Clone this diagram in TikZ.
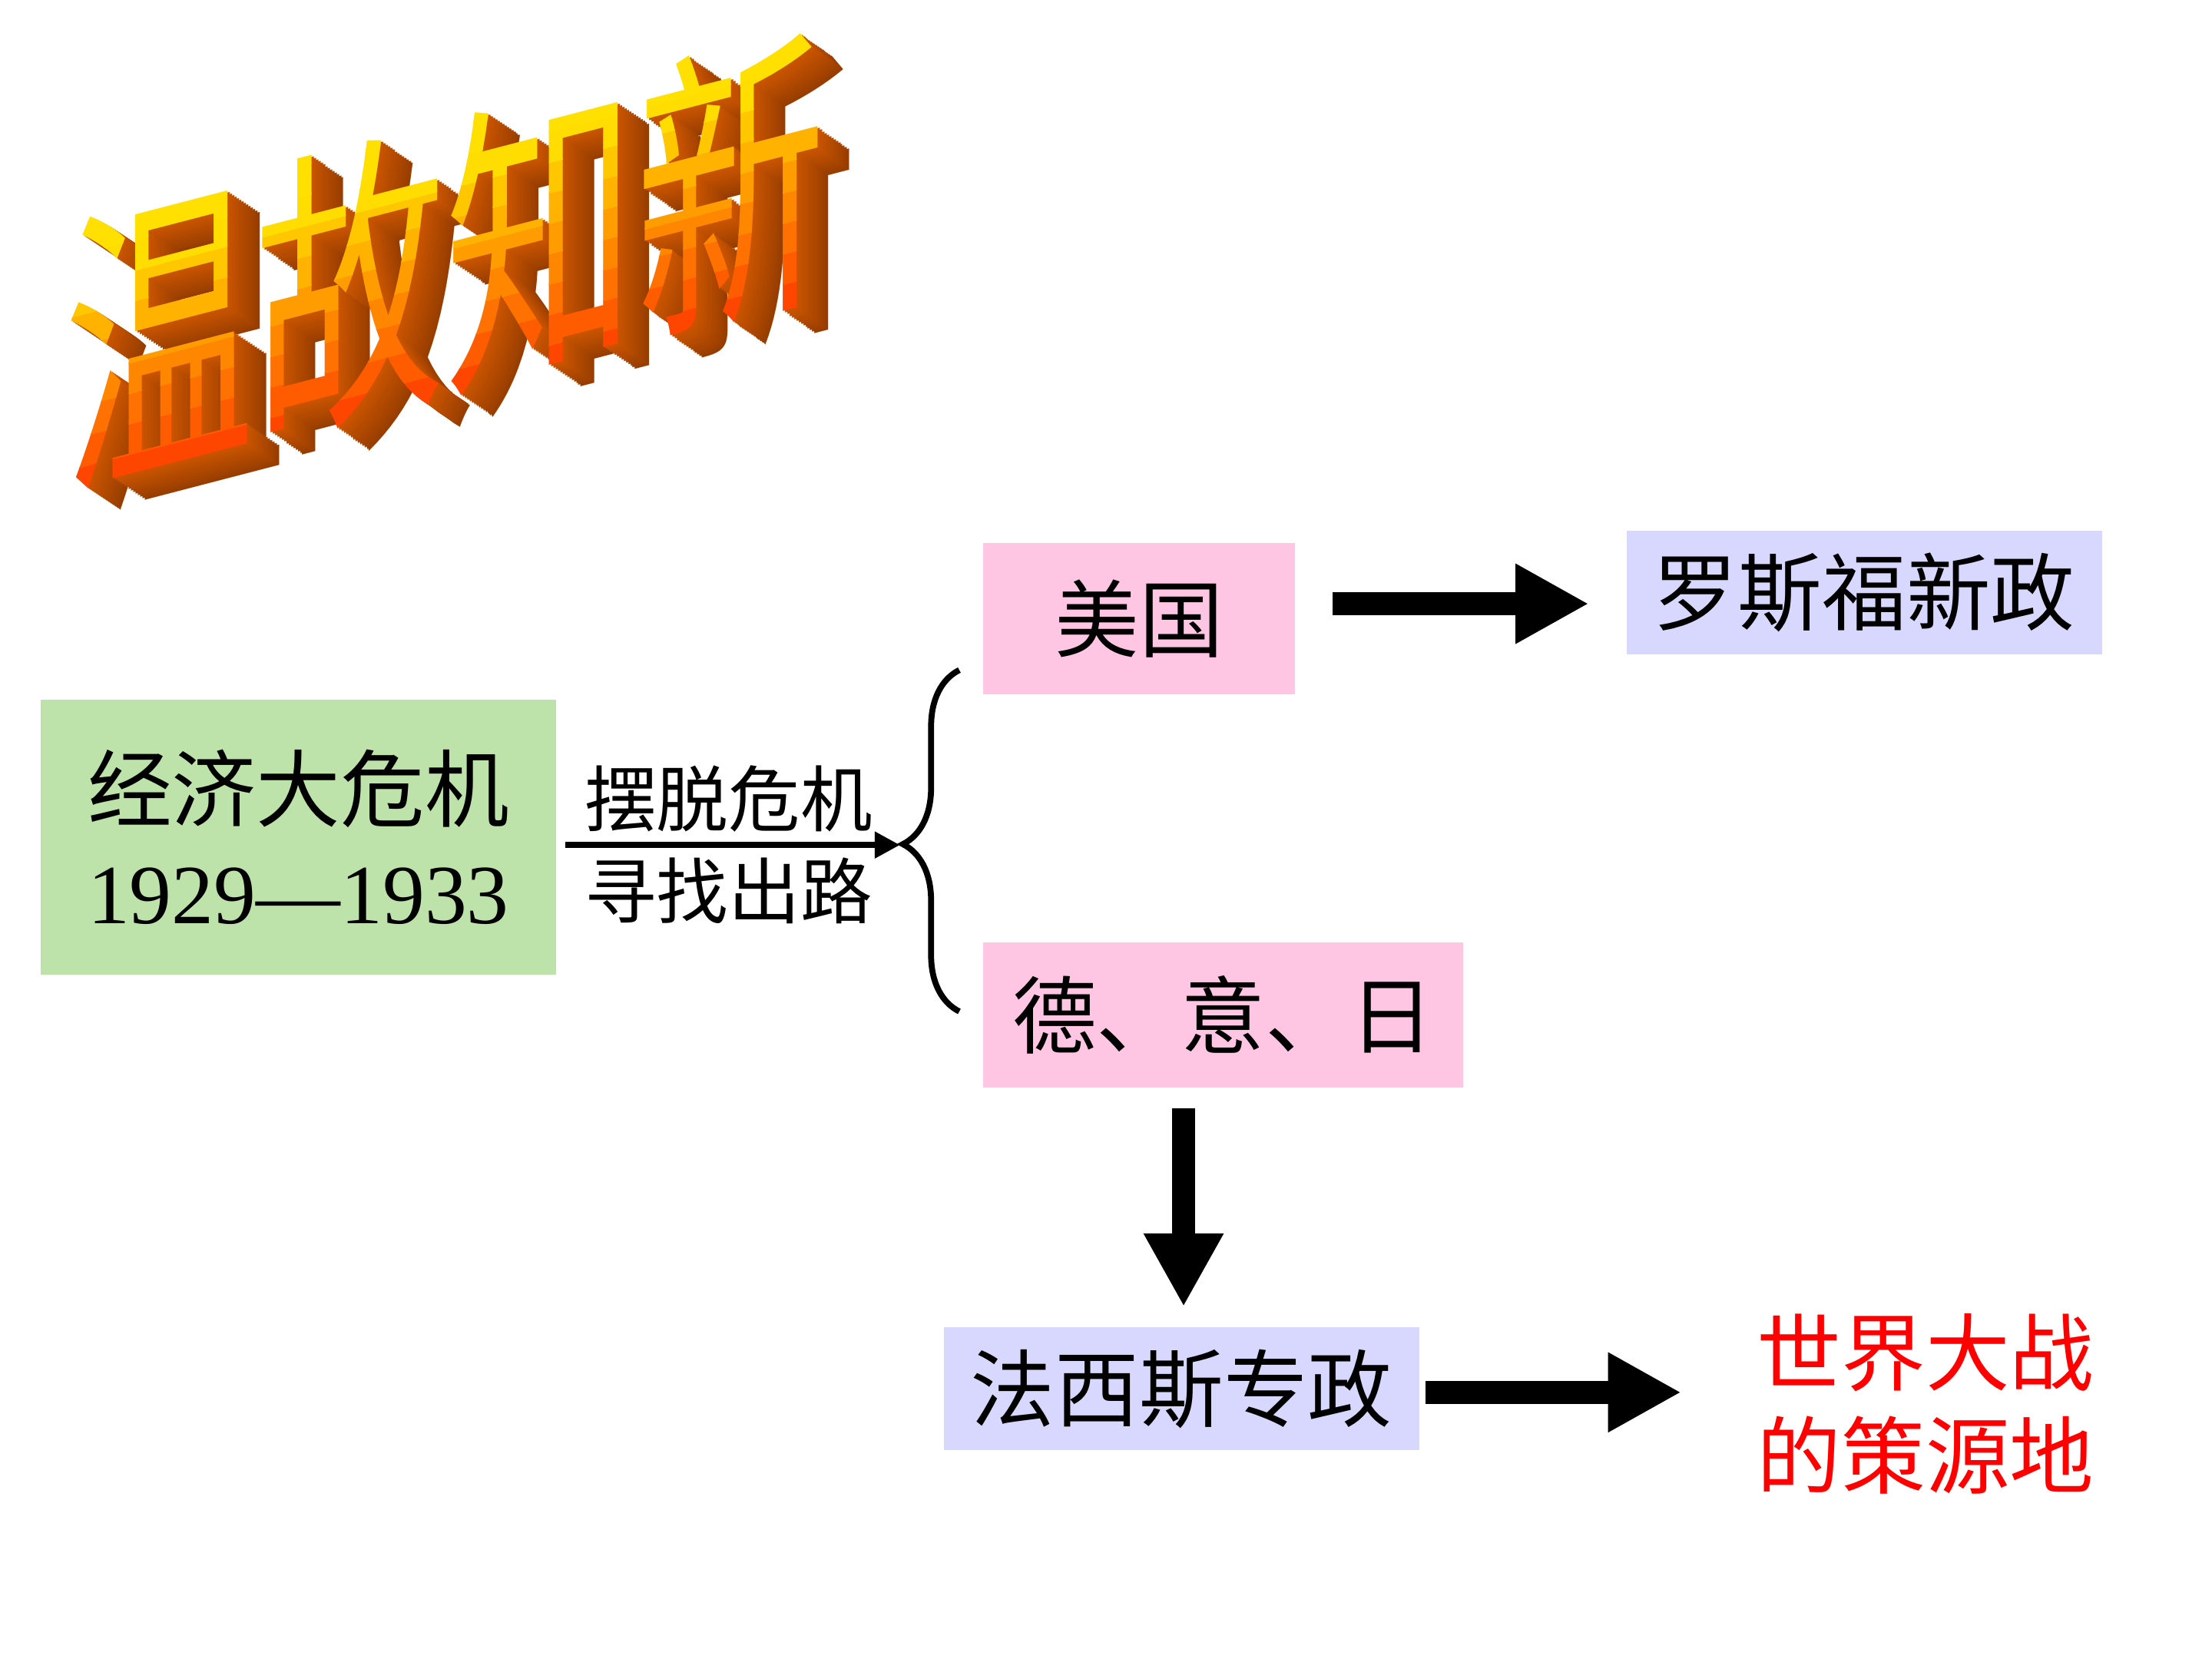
\documentclass[tikz,border=0pt]{standalone}
\usepackage{fontspec}
\setmainfont{Liberation Serif}
\newfontfamily\cjk{Noto Sans CJK SC}
\usepackage{xcolor}
\definecolor{crisisGreen}{HTML}{BDE3AA}
\definecolor{boxPink}{HTML}{FFC6E4}
\definecolor{boxLilac}{HTML}{D8D8FF}
\definecolor{titleTop}{HTML}{FFE000}
\definecolor{titleBot}{HTML}{FF4600}
\definecolor{titleSide}{HTML}{CC5600}
\definecolor{titleDeep}{HTML}{6E2A00}
\usepackage{tikz}
\usetikzlibrary{calc,arrows.meta,decorations.pathreplacing}

\begin{document}
\begin{tikzpicture}[>=stealth,
  box/.style={inner sep=0pt, font=\cjk\fontsize{17}{20.8}\selectfont},
  ttl/.style={anchor=south west, inner sep=0pt, transform shape,
    font=\cjk\fontsize{38.4}{40}\selectfont},
  bigarrow/.style={line width=0.16cm, -{Triangle[length=0.52cm, width=0.53cm]}},
  thinarrow/.style={line width=1.3pt, -{Triangle[length=0.18cm, width=0.18cm]}}]
  \fill[white] (0,0) rectangle (15.68,11.76);
  \useasboundingbox (0,0) rectangle (15.68,11.76);
  % ---- title: extruded layers, then the front face in bands ----
  \foreach \i in {14,13,...,1} {
    \pgfmathsetmacro{\dk}{\i*4}
    \begin{scope}[shift={(0.45+\i*0.016,8.2-\i*0.011)}, yslant=0.26, yscale=1.6]
      \node[ttl, text=titleDeep!\dk!titleSide] (side-\i) at (0,0) {温故知新};
    \end{scope}
  }
  \foreach \k in {0,...,9} {
    \pgfmathsetmacro{\mix}{min(100,\k*14)}
    \pgfmathsetmacro{\ylo}{ifthenelse(\k==0,-1,\k*0.135)}
    \pgfmathsetmacro{\yhi}{ifthenelse(\k==9,3,\k*0.135+0.14)}
    \begin{scope}[shift={(0.45,8.2)}, yslant=0.26, yscale=1.6]
      \clip (-0.3,\ylo) rectangle (6.2,\yhi);
      \node[ttl, text=titleTop!\mix!titleBot] (face-\k) at (0,0) {温故知新};
    \end{scope}
  }
  % ---- boxes ----
  \node[box, fill=crisisGreen, minimum width=3.65cm, minimum height=1.95cm, align=center]
    (crisis) at (2.115,5.825) {经济大危机\\{\rmfamily 1929—1933}};
  \node[box, fill=boxPink, minimum width=2.21cm, minimum height=1.07cm]
    (usa) at (8.075,7.375) {美国};
  \node[box, fill=boxLilac, minimum width=3.37cm, minimum height=0.88cm]
    (newdeal) at (13.215,7.56) {罗斯福新政};
  \node[box, fill=boxPink, minimum width=3.40cm, minimum height=1.03cm]
    (axis) at (8.67,4.565) {德、意、日};
  \node[box, fill=boxLilac, minimum width=3.37cm, minimum height=0.87cm]
    (fascism) at (8.375,1.915) {法西斯专政};
  \node[box, text=red, align=center] (war) at (13.65,1.81) {世界大战\\的策源地};
  % ---- brace and the way out of the crisis ----
  \coordinate (bracebot) at (6.80,4.59);
  \coordinate (bracetop) at (6.80,7.01);
  \coordinate (fork) at (6.38,5.77);
  \draw[line width=1.2pt, decorate, decoration={brace, amplitude=0.4cm, aspect=0.49}]
    (bracebot) -- (bracetop);
  \draw[thinarrow, shorten <=0.06cm] (crisis.east |- fork) -- (fork)
    node[box, midway, above=0.07cm, font=\cjk\fontsize{14.5}{16}\selectfont] (escape) {摆脱危机}
    node[box, midway, below=0.07cm, font=\cjk\fontsize{14.5}{16}\selectfont] (search) {寻找出路};
  % ---- thick arrows ----
  \coordinate (rowA) at (0,7.48);
  \coordinate (colD) at (8.39,0);
  \coordinate (rowC) at (0,1.89);
  \draw[bigarrow, shorten <=0.26cm, shorten >=0.26cm] (usa.east |- rowA) -- (newdeal.west |- rowA);
  \draw[bigarrow, shorten <=0.14cm, shorten >=0.14cm] (colD |- axis.south) -- (colD |- fascism.north);
  \draw[bigarrow, shorten <=0.04cm, shorten >=0.53cm] (fascism.east |- rowC) -- (war.west |- rowC);
\end{tikzpicture}
\end{document}
